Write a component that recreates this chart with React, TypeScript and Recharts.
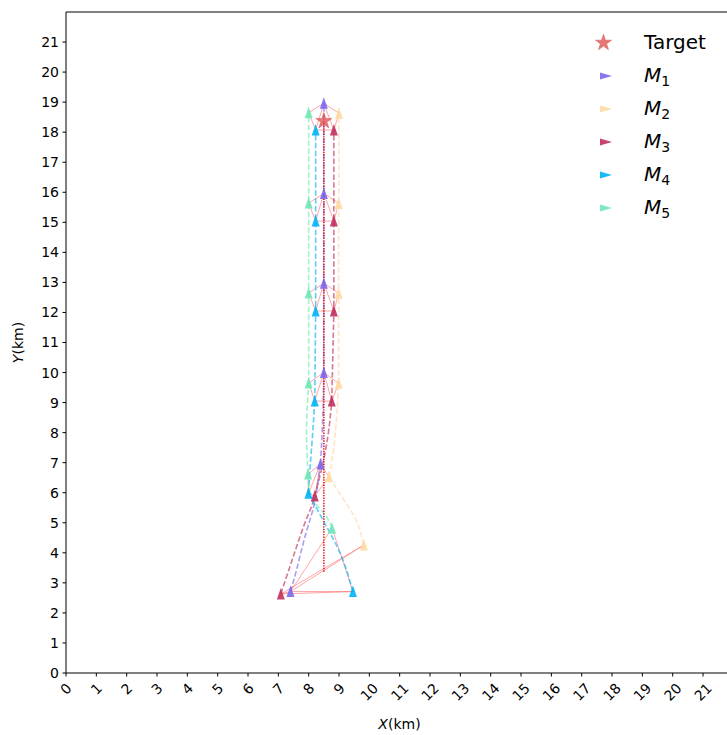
import { ScatterChart, Scatter, XAxis, YAxis, ReferenceLine, Legend } from 'recharts';

const FONT = '"DejaVu Sans", sans-serif';

// axis ticks
const X_TICKS = [0, 1, 2, 3, 4, 5, 6, 7, 8, 9, 10, 11, 12, 13, 14, 15, 16, 17, 18, 19, 20, 21];
const Y_TICKS = [0, 1, 2, 3, 4, 5, 6, 7, 8, 9, 10, 11, 12, 13, 14, 15, 16, 17, 18, 19, 20, 21];

// missiles M1..M5
const MISSILE_COLORS = ['#7b68ee', '#ffd9a3', '#c0305f', '#00b4f5', '#6fe8b6'];

// positions (x, y in km) of M1..M5 at each drawn time step
const STEP_START = [[7.40, 2.71], [9.82, 4.26], [7.08, 2.63], [9.46, 2.71], [8.77, 4.82]];
const STEP_1 = [[8.39, 6.96], [8.67, 6.53], [8.20, 5.89], [7.99, 5.98], [7.98, 6.62]];
const STEP_2 = [[8.50, 10.0], [8.99, 9.64], [8.76, 9.05], [8.20, 9.05], [8.00, 9.65]];
const STEP_3 = [[8.50, 12.97], [8.99, 12.64], [8.83, 12.05], [8.23, 12.05], [8.00, 12.65]];
const STEP_4 = [[8.50, 15.96], [8.99, 15.63], [8.83, 15.04], [8.23, 15.04], [8.00, 15.64]];
const STEP_5 = [[8.50, 18.96], [9.00, 18.63], [8.83, 18.07], [8.23, 18.07], [8.00, 18.65]];
const STEPS = [STEP_START, STEP_1, STEP_2, STEP_3, STEP_4, STEP_5];

// points read along the curved dashed tracks, start -> step 1
const APPROACH = [
  [[7.60, 3.43], [7.82, 4.32], [8.04, 5.09], [8.22, 5.8]],
  [[9.60, 5.0], [9.28, 5.58], [8.95, 6.08]],
  [[7.38, 3.54], [7.60, 4.20], [7.87, 4.98], [8.09, 5.53]],
  [[9.35, 3.09], [9.13, 3.76], [8.84, 4.40], [8.52, 5.0], [8.2, 5.6]],
  [[8.59, 5.2], [8.36, 5.48], [8.15, 5.76], [8.01, 6.2]],
];
// step 1 -> step 2
const CLIMB = [
  [[8.46, 8.4]],
  [[8.86, 7.8]],
  [[8.45, 6.9], [8.65, 8.0]],
  [[8.05, 6.9], [8.13, 7.95]],
  [[7.93, 8.1]],
];

// formation links between missiles (indices)
const LINKS = [[0, 1], [1, 2], [2, 3], [3, 4], [4, 0], [0, 2], [0, 3]];

// target track
const TARGET_TRACK = [[8.5, 3.37], [8.5, 18.37]];
const TARGET = [[8.5, 18.37]];

const pts = (arr: number[][]) => arr.map(([x, y]) => ({ x, y }));
const Nothing = () => <g />;

const starPath = (cx: number, cy: number, r: number) => {
  let d = '';
  for (let i = 0; i < 10; i++) {
    const a = (-90 + i * 36) * Math.PI / 180;
    const rr = i % 2 ? r * 0.382 : r;
    d += (i ? 'L' : 'M') + (cx + rr * Math.cos(a)).toFixed(2) + ',' + (cy + rr * Math.sin(a)).toFixed(2);
  }
  return d + 'Z';
};

const triangle = (color: string) => (props: any) => {
  const { cx, cy } = props;
  if (cx == null || cy == null) return <g />;
  return (
    <path
      d={`M${cx},${cy - 6}L${cx + 4},${cy + 5.5}L${cx - 4},${cy + 5.5}Z`}
      fill={color}
      fillOpacity={0.9}
    />
  );
};

const StarShape = (props: any) => {
  const { cx, cy } = props;
  if (cx == null || cy == null) return <g />;
  return <path d={starPath(cx, cy, 8.5)} fill="#dd4a4a" fillOpacity={0.75} stroke="#dd4a4a" strokeOpacity={0.6} strokeWidth={0.8} />;
};

const XTick = (props: any) => {
  const { x, y, payload } = props;
  const s = String(payload.value);
  const w = s.length * 8.9;
  const b = (w + 10.5) / Math.SQRT2;
  const cy = y + 2 + b / 2;
  return (
    <text
      x={x}
      y={cy}
      textAnchor="middle"
      dominantBaseline="central"
      fontSize={14}
      fontFamily={FONT}
      fill="#000"
      transform={`rotate(-45 ${x} ${cy})`}
    >
      {s}
    </text>
  );
};

const LegendBox = () => (
  <svg width={145} height={200} style={{ display: 'block' }}>
    <path d={starPath(21.5, 20.8, 8.5)} fill="#dd4a4a" fillOpacity={0.75} stroke="#dd4a4a" strokeOpacity={0.6} strokeWidth={0.8} />
    <text x={62} y={26.5} fontSize={20} fontFamily={FONT} fill="#000">Target</text>
    {MISSILE_COLORS.map((c, i) => {
      const cy = 54 + i * 33;
      return (
        <g key={i}>
          <path d={`M18,${cy - 3.5}L30,${cy}L18,${cy + 3.5}Z`} fill={c} fillOpacity={0.9} />
          <text x={62} y={cy + 6} fontSize={20} fontFamily={FONT} fill="#000">
            <tspan fontStyle="italic">M</tspan>
            <tspan fontSize={14} dy={4}>{i + 1}</tspan>
          </text>
        </g>
      );
    })}
  </svg>
);

export default function App() {
  const linkSeries: any[] = [];
  STEPS.forEach((step, s) => {
    LINKS.forEach(([a, b], k) => {
      linkSeries.push(
        <Scatter
          key={`link-${s}-${k}`}
          data={pts([step[a], step[b]])}
          line={{ stroke: '#ff5c5c', strokeOpacity: 0.55, strokeWidth: 1 }}
          shape={Nothing}
          isAnimationActive={false}
        />
      );
    });
  });

  const trackSeries: any[] = [];
  MISSILE_COLORS.forEach((c, i) => {
    const dash = { stroke: c, strokeOpacity: 0.65, strokeWidth: 1.6, strokeDasharray: '5.5 2.4' };
    trackSeries.push(
      <Scatter key={`a-${i}`} data={pts([STEP_START[i], ...APPROACH[i], STEP_1[i]])} line={dash}
        lineJointType="natural" shape={Nothing} isAnimationActive={false} />,
      <Scatter key={`c-${i}`} data={pts([STEP_1[i], ...CLIMB[i], STEP_2[i]])} line={dash}
        lineJointType="natural" shape={Nothing} isAnimationActive={false} />,
      <Scatter key={`s-${i}`} data={pts([STEP_2[i], STEP_3[i], STEP_4[i], STEP_5[i]])} line={dash}
        shape={Nothing} isAnimationActive={false} />
    );
  });

  return (
    <div style={{ position: 'absolute', left: 0, top: 0, background: '#fff' }}>
      <ScatterChart width={727} height={735} margin={{ top: 12, right: 0, bottom: 0, left: 0 }}>
        <XAxis
          type="number"
          dataKey="x"
          domain={[0, 21.79]}
          allowDataOverflow
          ticks={X_TICKS}
          interval={0}
          height={62}
          tickSize={3.5}
          tickMargin={3.5}
          tick={XTick}
          axisLine={{ stroke: '#000' }}
          tickLine={{ stroke: '#000' }}
          label={() => (
            <text x={399.5} y={729} textAnchor="middle" fontSize={14} fontFamily={FONT} fill="#000">
              <tspan fontStyle="italic">X</tspan>(km)
            </text>
          )}
        />
        <YAxis
          type="number"
          dataKey="y"
          domain={[0, 22]}
          allowDataOverflow
          ticks={Y_TICKS}
          interval={0}
          width={66}
          tickSize={3.5}
          tickMargin={3.5}
          tick={{ fill: '#000', fontSize: 14, fontFamily: FONT }}
          axisLine={{ stroke: '#000' }}
          tickLine={{ stroke: '#000' }}
          label={() => (
            <text x={23} y={342.5} transform="rotate(-90 23 342.5)" textAnchor="middle" fontSize={14} fontFamily={FONT} fill="#000">
              <tspan fontStyle="italic">Y</tspan>(km)
            </text>
          )}
        />
        <ReferenceLine y={22} stroke="#000" ifOverflow="visible" />
        {linkSeries}
        {trackSeries}
        <Scatter
          data={pts(TARGET_TRACK)}
          line={{ stroke: '#e00000', strokeWidth: 1.4, strokeDasharray: '1.4 1.2' }}
          shape={Nothing}
          isAnimationActive={false}
        />
        {MISSILE_COLORS.map((c, i) => (
          <Scatter
            key={`m-${i}`}
            data={pts(STEPS.map((step) => step[i]))}
            shape={triangle(c)}
            isAnimationActive={false}
          />
        ))}
        <Scatter data={pts(TARGET)} shape={StarShape} isAnimationActive={false} />
        <Legend
          layout="vertical"
          align="center"
          verticalAlign="middle"
          content={() => <LegendBox />}
          wrapperStyle={{ top: 22, left: 582, width: 145, height: 200 }}
        />
      </ScatterChart>
    </div>
  );
}
